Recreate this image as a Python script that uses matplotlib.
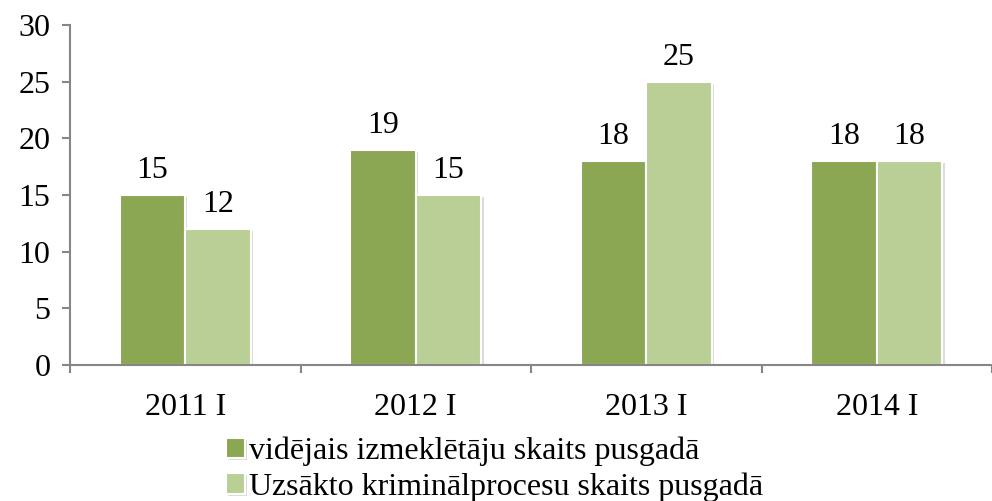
import matplotlib.pyplot as plt
import matplotlib.patheffects as pe
import numpy as np

plt.rcParams['font.family'] = ['Liberation Serif', 'DejaVu Serif']

categories = ["2011 I", "2012 I", "2013 I", "2014 I"]
investigators = [15, 19, 18, 18]
cases = [12, 15, 25, 18]
series_names = ["vidējais izmeklētāju skaits pusgadā",
                "Uzsākto kriminālprocesu skaits pusgadā"]

dark_green = '#8ba753'
light_green = '#b9cf96'
axis_grey = '#868686'
fs = 23

fig = plt.figure(figsize=(9.92, 5.01), dpi=100)
ax = fig.add_axes([70 / 992, 136 / 501, 922 / 992, 340 / 501])

x = np.arange(len(categories))
w = 0.285
shadow = [pe.SimplePatchShadow(offset=(1.5, -1.5), shadow_rgbFace='#999999', alpha=0.35), pe.Normal()]
b1 = ax.bar(x - w / 2, investigators, w, color=dark_green, edgecolor='white', linewidth=1.5,
            label=series_names[0], path_effects=shadow)
b2 = ax.bar(x + w / 2, cases, w, color=light_green, edgecolor='white', linewidth=1.5,
            label=series_names[1], path_effects=shadow)

for bars, vals in [(b1, investigators), (b2, cases)]:
    for rect, v in zip(bars, vals):
        ax.annotate(str(v), (rect.get_x() + rect.get_width() / 2, v),
                    xytext=(0, 7), textcoords='offset points',
                    ha='center', va='bottom', fontsize=fs)

ax.set_ylim(0, 30)
ax.set_yticks(range(0, 31, 5))
ax.set_xlim(-0.5, -0.5 + 922 / 231.5)
ax.set_xticks(x)
ax.set_xticklabels(categories)
ax.set_xticks(np.arange(-0.5, len(categories), 1), minor=True)
ax.tick_params(axis='x', which='major', length=0, pad=20, labelsize=fs)
ax.tick_params(axis='x', which='minor', length=6, color=axis_grey, width=1.5)
ax.tick_params(axis='y', length=6, color=axis_grey, width=1.5, labelsize=fs, pad=8)

for s in ['top', 'right']:
    ax.spines[s].set_visible(False)
for s in ['left', 'bottom']:
    ax.spines[s].set_color(axis_grey)
    ax.spines[s].set_linewidth(1.5)

fig.legend(handles=[b1, b2], loc='upper left', bbox_to_anchor=(210 / 992, 1 - 421 / 501),
           frameon=False, fontsize=fs, handlelength=0.6, handleheight=0.6,
           handletextpad=0.12, labelspacing=0.18, borderpad=0)

fig.savefig('out.png', dpi=100, facecolor='white')
